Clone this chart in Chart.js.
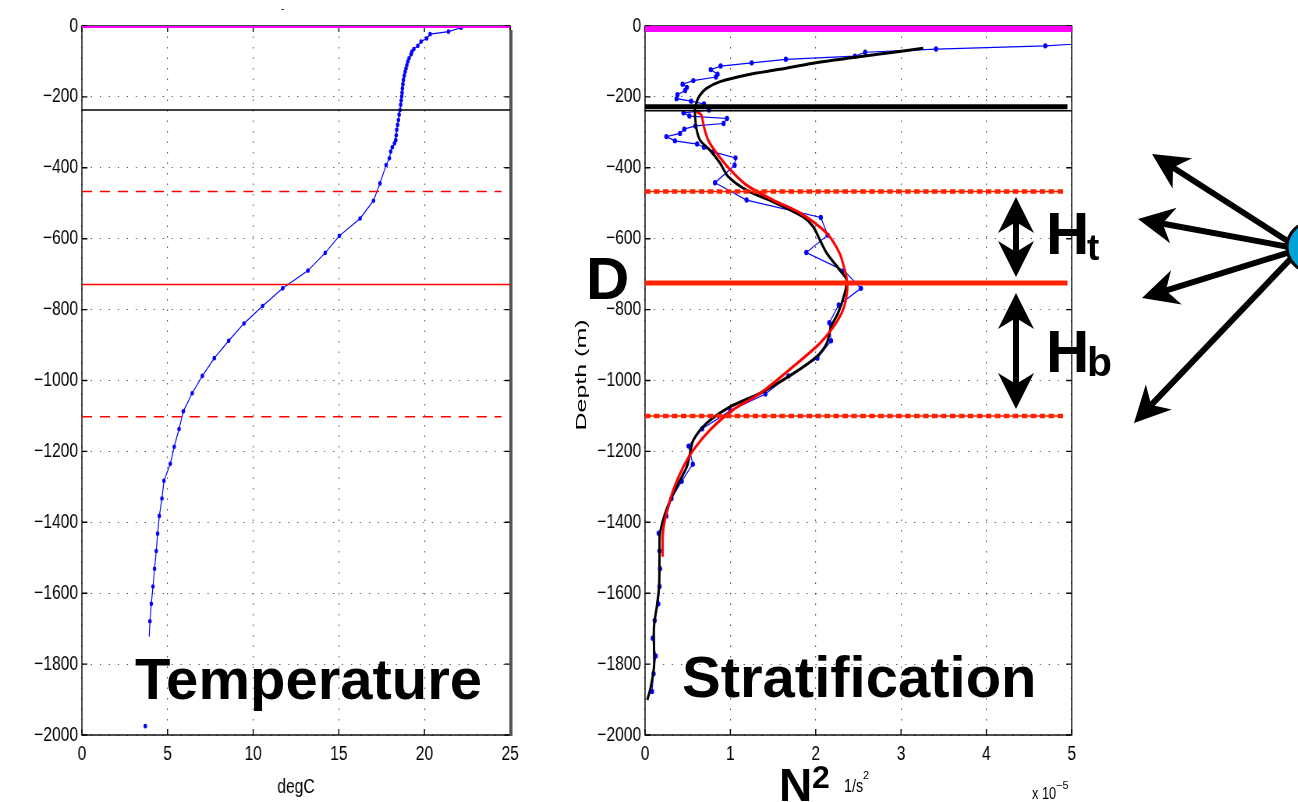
<!DOCTYPE html>
<html>
<head>
<meta charset="utf-8">
<script src="https://cdn.jsdelivr.net/npm/chart.js@4.4.0/dist/chart.umd.min.js"></script>
<style>
  html, body { margin: 0; padding: 0; background: #fff; }
  body { width: 1298px; height: 802px; position: relative; overflow: hidden; font-family: 'Liberation Sans', Arial, sans-serif; }
  /* the matlab figure in the reference is squeezed horizontally */
  .wrap { position: absolute; top: 0; height: 802px; transform: scaleX(0.78); transform-origin: 0 0; }
  #tempWrap { left: 0; width: 700px; }
  #stratWrap { left: 560px; width: 692px; }
  .lbl { position: absolute; color: #000; line-height: 1; white-space: nowrap; }
  .big { font-weight: bold; }
  svg { position: absolute; left: 0; top: 0; }
</style>
</head>
<body>
<div class="wrap" id="tempWrap"><canvas id="temp" width="700" height="802"></canvas></div>
<div class="wrap" id="stratWrap"><canvas id="strat" width="692" height="802"></canvas></div>

<svg id="arrows" width="1298" height="802"></svg>

<div class="lbl" style="left:281px;top:4px;font-size:10px;">-</div>
<div class="lbl big" style="left:135px;top:650px;font-size:58px;">Temperature</div>
<div class="lbl big" style="left:682px;top:648px;font-size:58px;">Stratification</div>
<div class="lbl big" style="left:586px;top:249px;font-size:60px;">D</div>
<div class="lbl big" style="left:1046px;top:204px;font-size:60px;">H</div>
<div class="lbl big" style="left:1087px;top:229px;font-size:37px;">t</div>
<div class="lbl big" style="left:1046px;top:322px;font-size:60px;">H</div>
<div class="lbl big" style="left:1087px;top:342px;font-size:41px;">b</div>
<div class="lbl big" style="left:779px;top:762px;font-size:46px;">N</div>
<div class="lbl big" style="left:812px;top:761px;font-size:32px;">2</div>
<div class="lbl" style="left:844px;top:777px;font-size:18px;transform:scaleX(0.8);transform-origin:0 0;">1/s</div>
<div class="lbl" style="left:863px;top:770px;font-size:11px;">2</div>
<div class="lbl" style="left:1032px;top:786px;font-size:16px;transform:scaleX(0.8);transform-origin:0 0;">x 10</div>
<div class="lbl" style="left:1056px;top:780px;font-size:11px;">&minus;5</div>
<div class="lbl" style="left:581px;top:375px;font-size:25px;transform:translate(-50%,-50%) rotate(-90deg) scaleY(0.6);">Depth (m)</div>

<script>
// ---- temperature profile (degC vs depth in m)
const tempDepth = [-5, -16, -23, -35, -44, -56, -65, -72, -80, -91, -100, -110, -120, -129, -140, -152, -164, -176, -188, -199,
  -210, -222, -237, -250, -265, -279, -293, -308, -322, -331, -342, -354, -373, -392, -444, -493, -543, -592, -640, -690,
  -740, -790, -839, -888, -937, -987, -1036, -1087, -1137, -1187, -1235, -1283, -1333, -1382, -1432, -1481, -1531, -1581,
  -1630, -1679, -1723];
const tempDegC = [22.14, 21.4, 20.33, 20.13, 19.8, 19.61, 19.38, 19.27, 19.22, 19.1, 19.03, 18.97, 18.92, 18.87, 18.82, 18.77,
  18.74, 18.71, 18.69, 18.67, 18.64, 18.61, 18.57, 18.52, 18.48, 18.43, 18.38, 18.35, 18.32, 18.25, 18.12, 18.03, 17.95,
  17.76, 17.4, 17.02, 16.24, 15.03, 14.2, 13.2, 11.72, 10.55, 9.46, 8.57, 7.73, 7.03, 6.44, 5.92, 5.67, 5.39, 5.16, 4.79,
  4.67, 4.52, 4.42, 4.34, 4.24, 4.15, 4.05, 3.97, 3.93];
const tempBottomDepth = [-1975];
const tempBottomDegC = [3.7];
// surface, mixed layer, upper bound, D, lower bound
const tempLevels = [0, -237, -467, -729, -1102];

// ---- stratification N^2 (x 1e-5 1/s^2)
const n2Depth = [-30, -56, -65, -74, -85, -94, -104, -113, -123, -136, -144, -154, -164, -173, -182, -194, -205, -212, -220,
  -237, -245, -254, -261, -275, -282, -291, -303, -312, -324, -333, -342, -355, -372, -393, -442, -491, -540, -590, -639,
  -690, -740, -787, -837, -888, -937, -987, -1038, -1085, -1136, -1185, -1236, -1284, -1333, -1382, -1431, -1481, -1531,
  -1581, -1630, -1677, -1727, -1777, -1827, -1877];
const n2Value = [6.5, 4.69, 3.41, 2.58, 2.46, 1.65, 1.25, 0.886, 0.77, 0.85, 0.83, 0.566, 0.44, 0.49, 0.47, 0.38, 0.37, 0.54,
  0.69, 0.75, 0.45, 0.52, 0.96, 0.92, 0.59, 0.46, 0.41, 0.25, 0.35, 0.61, 0.69, 0.80, 1.06, 1.05, 0.82, 1.19, 2.06, 2.14,
  1.89, 2.33, 2.53, 2.27, 2.16, 2.18, 2.02, 1.68, 1.41, 1.0, 0.67, 0.51, 0.56, 0.43, 0.31, 0.25, 0.16, 0.17, 0.176, 0.17,
  0.156, 0.113, 0.09, 0.125, 0.10, 0.082];
const fitBlackDepth = [-63, -79, -105, -122, -138, -157, -176, -195, -214, -237, -265, -293, -322, -350, -387, -425, -463,
  -500, -538, -566, -604, -641, -688, -716, -754, -811, -848, -895, -933, -980, -1036, -1074, -1121, -1168, -1205, -1243,
  -1300, -1365, -1431, -1487, -1582, -1638, -1694, -1751, -1807, -1864, -1901];
const fitBlackN2 = [3.26, 2.75, 1.97, 1.58, 1.19, 0.88, 0.72, 0.644, 0.605, 0.585, 0.59, 0.605, 0.644, 0.76, 0.88, 0.975,
  1.19, 1.54, 1.85, 1.97, 2.05, 2.13, 2.28, 2.36, 2.34, 2.26, 2.18, 2.13, 2.01, 1.74, 1.35, 1.0, 0.72, 0.566, 0.527, 0.49,
  0.37, 0.25, 0.176, 0.17, 0.164, 0.137, 0.105, 0.105, 0.105, 0.067, 0.027];
const fitRedDepth = [-242, -251, -284, -322, -359, -406, -449, -491, -528, -585, -641, -688, -707, -745, -801, -848, -895,
  -960, -1036, -1083, -1140, -1196, -1243, -1309, -1375, -1431, -1497];
const fitRedN2 = [0.605, 0.66, 0.69, 0.74, 0.84, 1.0, 1.19, 1.50, 1.82, 2.13, 2.28, 2.34, 2.36, 2.37, 2.32, 2.21, 2.05,
  1.74, 1.35, 1.03, 0.76, 0.566, 0.45, 0.33, 0.25, 0.21, 0.207];
// surface, thick black, thin black, upper bound, D, lower bound
const n2Levels = [0, -228, -239, -467, -725, -1100];

// ---- axes
const depthTicks = [-2000, -1800, -1600, -1400, -1200, -1000, -800, -600, -400, -200, 0];
const tempTicks = [0, 5, 10, 15, 20, 25];
const n2Ticks = [0, 1, 2, 3, 4, 5];

const TICK_FONT = "'Liberation Sans', Arial, sans-serif";
const BLUE = '#0000ff';
const RED = '#ff0000';
const ORANGE_RED = '#ff2200';
const MAGENTA = '#ff00ff';

const pts = (xs, ys) => xs.map((x, i) => ({x, y: ys[i]}));

function hline(y, x1, color, width, dash) {
    return {
        data: [{x: 0, y}, {x: x1, y}],
        showLine: true,
        borderColor: color,
        borderWidth: width,
        borderDash: dash || [],
        pointRadius: 0,
        clip: 0,
    };
}

// matlab style box with inner ticks
const boxPlugin = {
    id: 'box',
    beforeDatasetsDraw(chart, args, opts) {
        const {ctx, chartArea: a, scales: {x, y}} = chart;
        ctx.save();
        ctx.strokeStyle = '#000';
        ctx.lineWidth = 1.4;
        ctx.beginPath();
        x.ticks.forEach(t => {
            const px = x.getPixelForValue(t.value);
            ctx.moveTo(px, a.bottom); ctx.lineTo(px, a.bottom - 6);
            ctx.moveTo(px, a.top); ctx.lineTo(px, a.top + 6);
        });
        y.ticks.forEach(t => {
            const py = y.getPixelForValue(t.value);
            ctx.moveTo(a.left, py); ctx.lineTo(a.left + 7, py);
            ctx.moveTo(a.right, py); ctx.lineTo(a.right - 7, py);
        });
        ctx.stroke();
        ctx.strokeRect(a.left, a.top, a.right - a.left, a.bottom - a.top);
        if (opts.shadow) {
            // grey frame edge seen on the right of the temperature axes
            ctx.strokeStyle = '#555';
            ctx.lineWidth = 4;
            ctx.beginPath();
            ctx.moveTo(a.right + 1, a.top + 4);
            ctx.lineTo(a.right + 1, a.bottom + 1);
            ctx.stroke();
        }
        ctx.restore();
    }
};

function buildOptions(xTicks, yWidth, padRight, xTitle, shadow) {
    return {
        responsive: false,
        animation: false,
        events: [],
        layout: {padding: {left: 0, top: 26, right: padRight, bottom: 0}},
        plugins: {legend: {display: false}, tooltip: {enabled: false}, box: {shadow}},
        scales: {
            x: {
                type: 'linear',
                min: xTicks[0],
                max: xTicks[xTicks.length - 1],
                afterBuildTicks: s => { s.ticks = xTicks.map(v => ({value: v})); },
                afterFit: s => { s.height = 67; },
                ticks: {
                    font: {family: TICK_FONT, size: 20},
                    color: '#000',
                    padding: 7,
                    maxRotation: 0,
                    autoSkip: false,
                    callback: v => String(v),
                },
                grid: {color: 'rgba(0,0,0,0.7)', lineWidth: 1.2, drawTicks: false},
                border: {display: false, dash: [1.5, 9]},
                title: xTitle ? {
                    display: true,
                    text: xTitle,
                    color: '#000',
                    font: {family: TICK_FONT, size: 20},
                    padding: {top: 0, bottom: 3},
                } : {display: false},
            },
            y: {
                type: 'linear',
                min: -2000,
                max: 0,
                afterBuildTicks: s => { s.ticks = depthTicks.map(v => ({value: v})); },
                afterFit: s => { s.width = yWidth; },
                ticks: {
                    font: {family: TICK_FONT, size: 20},
                    color: '#000',
                    padding: 5,
                    autoSkip: false,
                    callback: v => v === 0 ? '0' : '\u2212' + Math.abs(v),
                },
                grid: {color: 'rgba(0,0,0,0.7)', lineWidth: 1, drawTicks: false},
                border: {display: false, dash: [1.5, 10]},
            },
        },
    };
}

// temperature chart
new Chart(document.getElementById('temp'), {
    type: 'scatter',
    data: {
        datasets: [
            hline(tempLevels[0], 25, MAGENTA, 4),
            hline(tempLevels[1], 25, '#000', 1.3),
            hline(tempLevels[2], 24.5, RED, 1.5, [13, 10]),
            hline(tempLevels[3], 25, RED, 1.5),
            hline(tempLevels[4], 24.5, RED, 1.5, [13, 10]),
            {
                data: pts(tempDegC, tempDepth),
                showLine: true,
                borderColor: BLUE,
                borderWidth: 1.2,
                backgroundColor: BLUE,
                pointBorderWidth: 0,
                pointRadius: ctx => ctx.dataIndex === tempDepth.length - 1 ? 0 : 2.3,
                clip: 0,
            },
            {
                data: pts(tempBottomDegC, tempBottomDepth),
                showLine: false,
                backgroundColor: BLUE,
                pointBorderWidth: 0,
                pointRadius: 2.3,
            },
        ]
    },
    options: buildOptions(tempTicks, 105, 46, 'degC', true),
    plugins: [boxPlugin],
});

// stratification chart
new Chart(document.getElementById('strat'), {
    type: 'scatter',
    data: {
        datasets: [
            hline(n2Levels[0], 5, MAGENTA, 12),
            hline(n2Levels[4], 4.95, ORANGE_RED, 5),
            hline(n2Levels[3], 4.9, ORANGE_RED, 4.5, [7, 4.5]),
            hline(n2Levels[5], 4.9, ORANGE_RED, 4.5, [7, 4.5]),
            hline(n2Levels[3], 4.9, ORANGE_RED, 1.5),
            hline(n2Levels[5], 4.9, ORANGE_RED, 1.5),
            hline(n2Levels[1], 4.95, '#000', 5),
            hline(n2Levels[2], 5, '#000', 1.3),
            {
                data: pts(fitRedN2, fitRedDepth),
                showLine: true,
                borderColor: RED,
                borderWidth: 3,
                pointRadius: 0,
                tension: 0.3,
                clip: 0,
            },
            {
                data: pts(fitBlackN2, fitBlackDepth),
                showLine: true,
                borderColor: '#000',
                borderWidth: 3,
                pointRadius: 0,
                tension: 0.3,
                clip: 0,
            },
            {
                data: pts(n2Value, n2Depth),
                showLine: true,
                borderColor: BLUE,
                borderWidth: 1.2,
                backgroundColor: BLUE,
                pointBorderWidth: 0,
                pointRadius: 2.7,
                clip: 0,
            },
        ]
    },
    options: buildOptions(n2Ticks, 109, 36, null, false),
    plugins: [boxPlugin],
});

// arrows and the source circle on the right
const svg = document.getElementById('arrows');
const NS = 'http://www.w3.org/2000/svg';

function arrowHead(tipX, tipY, fromX, fromY) {
    const L = 36, W = 36, notch = 11;
    const dx = tipX - fromX, dy = tipY - fromY;
    const len = Math.hypot(dx, dy);
    const ux = dx / len, uy = dy / len;
    const vx = -uy, vy = ux;
    const bx = tipX - ux * L, by = tipY - uy * L;
    const p = [
        [tipX, tipY],
        [bx + vx * W / 2, by + vy * W / 2],
        [tipX - ux * (L - notch), tipY - uy * (L - notch)],
        [bx - vx * W / 2, by - vy * W / 2],
    ];
    const poly = document.createElementNS(NS, 'polygon');
    poly.setAttribute('points', p.map(q => q.join(',')).join(' '));
    poly.setAttribute('fill', '#000');
    svg.appendChild(poly);
    return [tipX - ux * (L - notch - 2), tipY - uy * (L - notch - 2)];
}

function shaft(x1, y1, x2, y2) {
    const l = document.createElementNS(NS, 'line');
    l.setAttribute('x1', x1); l.setAttribute('y1', y1);
    l.setAttribute('x2', x2); l.setAttribute('y2', y2);
    l.setAttribute('stroke', '#000');
    l.setAttribute('stroke-width', 6);
    svg.appendChild(l);
}

function doubleArrow(x, yTop, yBottom) {
    const a = arrowHead(x, yTop, x, yBottom);
    const b = arrowHead(x, yBottom, x, yTop);
    shaft(a[0], a[1], b[0], b[1]);
}

doubleArrow(1016, 197, 277);
doubleArrow(1016, 293, 409);

const src = [1300, 249];
[[1152, 154], [1138, 219], [1142, 298], [1134, 423]].forEach(([tx, ty]) => {
    const e = arrowHead(tx, ty, src[0], src[1]);
    shaft(src[0], src[1], e[0], e[1]);
});

const circle = document.createElementNS(NS, 'circle');
circle.setAttribute('cx', 1312);
circle.setAttribute('cy', 247);
circle.setAttribute('r', 25);
circle.setAttribute('fill', '#00a2d8');
circle.setAttribute('stroke', '#000');
circle.setAttribute('stroke-width', 3);
svg.appendChild(circle);
</script>
</body>
</html>
